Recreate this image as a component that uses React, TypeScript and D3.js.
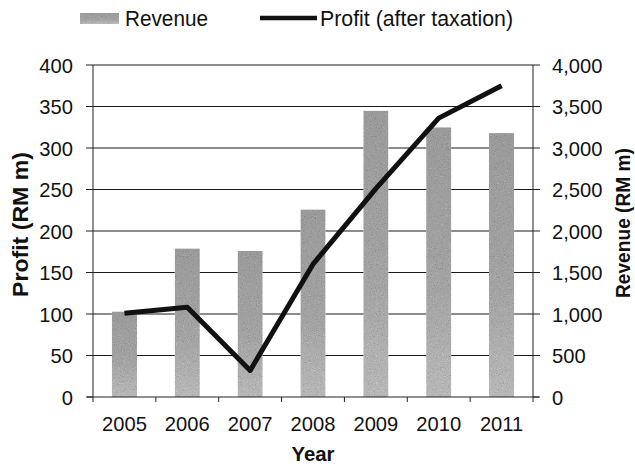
import React from "react";
import * as d3 from "d3";

const years = ["2005", "2006", "2007", "2008", "2009", "2010", "2011"];
const revenue = [1030, 1790, 1760, 2260, 3450, 3250, 3180];
const profit = [101, 108, 32, 160, 251, 336, 375];
const profitTicks = [0, 50, 100, 150, 200, 250, 300, 350, 400];
const revenueTicks = [0, 500, 1000, 1500, 2000, 2500, 3000, 3500, 4000];

const W = 635;
const H = 466;
const L = 93;
const R = 533;
const T = 65;
const B = 397;
const FONT = "'Liberation Sans', Arial, sans-serif";
const SX = 0.96;

function HText(props: {
  x: number;
  y: number;
  anchor?: string;
  size?: number;
  bold?: boolean;
  children: React.ReactNode;
}) {
  const { x, y, anchor = "start", size = 21, bold = false, children } = props;
  return (
    <g transform={`translate(${x},${y}) scale(${SX},1)`}>
      <text
        x={0}
        y={0}
        textAnchor={anchor}
        fontSize={size}
        fontWeight={bold ? "bold" : "normal"}
        fill="#111"
      >
        {children}
      </text>
    </g>
  );
}

export default function App() {
  const x = d3.scaleBand<string>().domain(years).range([L, R]).paddingInner(0.6).paddingOuter(0.3);
  const yL = d3.scaleLinear().domain([0, 400]).range([B, T]);
  const yR = d3.scaleLinear().domain([0, 4000]).range([B, T]);
  const fmt = d3.format(",");
  const step = x.step();
  const line = d3
    .line<number>()
    .x((_, i) => (x(years[i]) as number) + x.bandwidth() / 2)
    .y((d) => yL(d));

  return (
    <svg
      width={W}
      height={H}
      style={{ position: "absolute", left: 0, top: 0, background: "#fff" }}
      fontFamily={FONT}
    >
      <defs>
        <linearGradient id="barg" x1="0" y1="0" x2="0" y2="1">
          <stop offset="0%" stopColor="#a6a6a6" />
          <stop offset="60%" stopColor="#b0b0b0" />
          <stop offset="100%" stopColor="#c6c6c6" />
        </linearGradient>
        <filter id="grain" x="0" y="0" width="100%" height="100%">
          <feTurbulence type="fractalNoise" baseFrequency="0.85" numOctaves={2} seed={4} result="n" />
          <feColorMatrix
            in="n"
            type="matrix"
            values="0.33 0.33 0.33 0 0  0.33 0.33 0.33 0 0  0.33 0.33 0.33 0 0  0 0 0 0 1"
            result="g"
          />
          <feComponentTransfer in="g" result="d">
            <feFuncR type="discrete" tableValues="0.55 0.7 0.85 1 1" />
            <feFuncG type="discrete" tableValues="0.55 0.7 0.85 1 1" />
            <feFuncB type="discrete" tableValues="0.55 0.7 0.85 1 1" />
          </feComponentTransfer>
          <feBlend in="SourceGraphic" in2="d" mode="multiply" result="m" />
          <feComposite in="m" in2="SourceGraphic" operator="in" />
        </filter>
      </defs>
      <rect x={0} y={0} width={W} height={H} fill="#fff" />

      {/* legend */}
      <rect x={80} y={13} width={39} height={11} fill="url(#barg)" filter="url(#grain)" />
      <text x={125} y={26} fontSize={22} fill="#111" textLength={83} lengthAdjust="spacingAndGlyphs">
        Revenue
      </text>
      <line x1={260} x2={317} y1={18} y2={18} stroke="#111" strokeWidth={4.5} />
      <text x={320} y={26} fontSize={22} fill="#111" textLength={193} lengthAdjust="spacingAndGlyphs">
        Profit (after taxation)
      </text>

      {/* gridlines */}
      {profitTicks.slice(1).map((t) => (
        <line key={t} x1={L} x2={R} y1={yL(t)} y2={yL(t)} stroke="#1a1a1a" strokeWidth={1.1} />
      ))}

      {/* bars */}
      <g filter="url(#grain)">
        {years.map((yr, i) => (
          <rect
            key={yr}
            x={x(yr)}
            y={yR(revenue[i])}
            width={x.bandwidth()}
            height={B - yR(revenue[i])}
            fill="url(#barg)"
          />
        ))}
      </g>

      {/* axes */}
      <line x1={L} x2={L} y1={T} y2={B} stroke="#222" strokeWidth={1} />
      <line x1={R} x2={R} y1={T} y2={B} stroke="#222" strokeWidth={1} />
      <line x1={L - 6} x2={R + 6} y1={B} y2={B} stroke="#222" strokeWidth={1} />
      {profitTicks.map((t) => (
        <g key={"l" + t}>
          <line x1={L - 7} x2={L} y1={yL(t)} y2={yL(t)} stroke="#222" />
          <HText x={73} y={yL(t) + 7.5} anchor="end">
            {t}
          </HText>
        </g>
      ))}
      {revenueTicks.map((t) => (
        <g key={"r" + t}>
          <line x1={R} x2={R + 7} y1={yR(t)} y2={yR(t)} stroke="#222" />
          <HText x={552} y={yR(t) + 7.5} anchor="start">
            {fmt(t)}
          </HText>
        </g>
      ))}
      {years.map((yr, i) => (
        <line
          key={"xt" + yr}
          x1={L + step * i}
          x2={L + step * i}
          y1={B}
          y2={B + 5}
          stroke="#222"
        />
      ))}
      <line x1={R} x2={R} y1={B} y2={B + 5} stroke="#222" />
      {years.map((yr) => (
        <HText key={"xl" + yr} x={(x(yr) as number) + x.bandwidth() / 2} y={431} anchor="middle">
          {yr}
        </HText>
      ))}

      {/* profit line */}
      <path d={line(profit) || ""} fill="none" stroke="#111" strokeWidth={5} strokeLinejoin="round" />

      {/* titles */}
      <text
        x={(L + R) / 2}
        y={461}
        textAnchor="middle"
        fontSize={21}
        fontWeight="bold"
        fill="#111"
        textLength={43}
        lengthAdjust="spacingAndGlyphs"
      >
        Year
      </text>
      <text
        transform={`translate(28,${224.5}) rotate(-90)`}
        x={-72.5}
        fontSize={22}
        fontWeight="bold"
        fill="#111"
        textLength={145}
        lengthAdjust="spacingAndGlyphs"
      >
        Profit (RM m)
      </text>
      <text
        transform={`translate(630,${223}) rotate(-90)`}
        x={-75}
        fontSize={20}
        fontWeight="bold"
        fill="#111"
        textLength={150}
        lengthAdjust="spacingAndGlyphs"
      >
        Revenue (RM m)
      </text>
    </svg>
  );
}
